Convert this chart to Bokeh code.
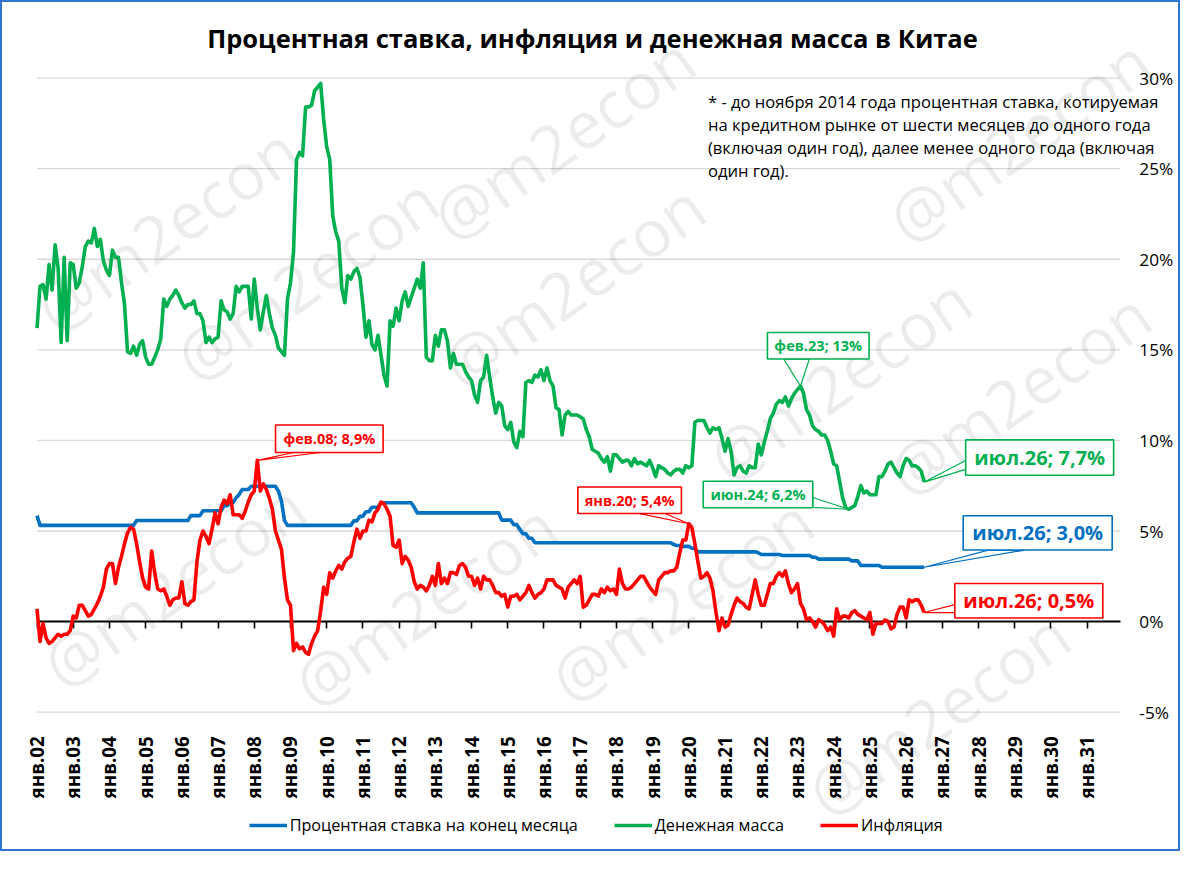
import math
from bokeh.plotting import figure
from bokeh.models import Range1d, FixedTicker, Label, Legend, LegendItem, LinearAxis
from bokeh.embed import file_html
from bokeh.resources import INLINE

FONT = "Open Sans"

# ------------------------------------------------------------------ data
MONTH_ABBR = ["янв", "фев", "мар", "апр", "май", "июн",
              "июл", "авг", "сен", "окт", "ноя", "дек"]
FIRST_YEAR, LAST_YEAR = 2002, 2031
CATEGORIES = [f"{m}.{y % 100:02d}" for y in range(FIRST_YEAR, LAST_YEAR + 1) for m in MONTH_ABBR]

TICK_LABELS = ["янв.02", "янв.03", "янв.04", "янв.05", "янв.06", "янв.07", "янв.08",
               "янв.09", "янв.10", "янв.11", "янв.12", "янв.13", "янв.14", "янв.15",
               "янв.16", "янв.17", "янв.18", "янв.19", "янв.20", "янв.21", "янв.22",
               "янв.23", "янв.24", "янв.25", "янв.26", "янв.27", "янв.28", "янв.29",
               "янв.30", "янв.31"]
Y_TICKS = [-5, 0, 5, 10, 15, 20, 25, 30]
Y_TICK_LABELS = ["-5%", "0%", "5%", "10%", "15%", "20%", "25%", "30%"]

TITLE = "Процентная ставка, инфляция и денежная масса в Китае"
NOTE = ("* - до ноября 2014 года процентная ставка, котируемая\n"
        "на кредитном рынке от шести месяцев до одного года\n"
        "(включая один год), далее менее одного года (включая\n"
        "один год).")
WATERMARK = "@m2econ"

SERIES_NAMES = ["Процентная ставка на конец месяца", "Денежная масса", "Инфляция"]

# interest rate at month end, %  (янв.02 ... июл.26)
RATE = [
    5.85, 5.31, 5.31, 5.31, 5.31, 5.31, 5.31, 5.31, 5.31, 5.31, 5.31, 5.31,  # 2002
    5.31, 5.31, 5.31, 5.31, 5.31, 5.31, 5.31, 5.31, 5.31, 5.31, 5.31, 5.31,  # 2003
    5.31, 5.31, 5.31, 5.31, 5.31, 5.31, 5.31, 5.31, 5.31, 5.58, 5.58, 5.58,  # 2004
    5.58, 5.58, 5.58, 5.58, 5.58, 5.58, 5.58, 5.58, 5.58, 5.58, 5.58, 5.58,  # 2005
    5.58, 5.58, 5.58, 5.85, 5.85, 5.85, 5.85, 6.12, 6.12, 6.12, 6.12, 6.12,  # 2006
    6.12, 6.12, 6.39, 6.39, 6.57, 6.57, 6.84, 7.02, 7.29, 7.29, 7.29, 7.47,  # 2007
    7.47, 7.47, 7.47, 7.47, 7.47, 7.47, 7.47, 7.47, 7.20, 6.66, 5.58, 5.31,  # 2008
    5.31, 5.31, 5.31, 5.31, 5.31, 5.31, 5.31, 5.31, 5.31, 5.31, 5.31, 5.31,  # 2009
    5.31, 5.31, 5.31, 5.31, 5.31, 5.31, 5.31, 5.31, 5.31, 5.56, 5.56, 5.81,  # 2010
    5.81, 6.06, 6.06, 6.31, 6.31, 6.31, 6.56, 6.56, 6.56, 6.56, 6.56, 6.56,  # 2011
    6.56, 6.56, 6.56, 6.56, 6.56, 6.31, 6.00, 6.00, 6.00, 6.00, 6.00, 6.00,  # 2012
    6.00, 6.00, 6.00, 6.00, 6.00, 6.00, 6.00, 6.00, 6.00, 6.00, 6.00, 6.00,  # 2013
    6.00, 6.00, 6.00, 6.00, 6.00, 6.00, 6.00, 6.00, 6.00, 6.00, 5.60, 5.60,  # 2014
    5.60, 5.60, 5.35, 5.35, 5.10, 4.85, 4.85, 4.60, 4.60, 4.35, 4.35, 4.35,  # 2015
    4.35, 4.35, 4.35, 4.35, 4.35, 4.35, 4.35, 4.35, 4.35, 4.35, 4.35, 4.35,  # 2016
    4.35, 4.35, 4.35, 4.35, 4.35, 4.35, 4.35, 4.35, 4.35, 4.35, 4.35, 4.35,  # 2017
    4.35, 4.35, 4.35, 4.35, 4.35, 4.35, 4.35, 4.35, 4.35, 4.35, 4.35, 4.35,  # 2018
    4.35, 4.35, 4.35, 4.35, 4.35, 4.35, 4.35, 4.25, 4.20, 4.20, 4.15, 4.15,  # 2019
    4.15, 4.05, 4.05, 3.85, 3.85, 3.85, 3.85, 3.85, 3.85, 3.85, 3.85, 3.85,  # 2020
    3.85, 3.85, 3.85, 3.85, 3.85, 3.85, 3.85, 3.85, 3.85, 3.85, 3.85, 3.80,  # 2021
    3.70, 3.70, 3.70, 3.70, 3.70, 3.70, 3.70, 3.65, 3.65, 3.65, 3.65, 3.65,  # 2022
    3.65, 3.65, 3.65, 3.65, 3.65, 3.55, 3.55, 3.45, 3.45, 3.45, 3.45, 3.45,  # 2023
    3.45, 3.45, 3.45, 3.45, 3.45, 3.45, 3.35, 3.35, 3.35, 3.10, 3.10, 3.10,  # 2024
    3.10, 3.10, 3.10, 3.10, 3.00, 3.00, 3.00, 3.00, 3.00, 3.00, 3.00, 3.00,  # 2025
    3.00, 3.00, 3.00, 3.00, 3.00, 3.00, 3.00,                                # 2026
]

# money supply growth, % y/y
MONEY = [
    16.2, 18.5, 18.6, 17.8, 19.7, 18.3, 20.8, 19.5, 15.4, 20.1, 15.5, 19.8,  # 2002
    19.7, 18.4, 18.7, 19.6, 20.7, 21.0, 20.9, 21.7, 20.7, 21.1, 19.9, 19.4,  # 2003
    19.1, 20.5, 20.1, 20.1, 18.7, 17.5, 14.9, 14.8, 15.2, 14.7, 15.3, 15.5,  # 2004
    14.6, 14.2, 14.2, 14.6, 15.0, 15.6, 17.8, 17.4, 17.8, 18.0, 18.3, 18.0,  # 2005
    17.6, 17.3, 17.5, 17.5, 17.7, 17.0, 17.0, 16.6, 15.4, 15.7, 15.4, 15.6,  # 2006
    15.7, 17.7, 17.2, 17.1, 16.7, 17.0, 18.5, 18.2, 18.5, 18.5, 18.5, 16.7,  # 2007
    18.9, 17.3, 16.1, 17.1, 18.0, 17.0, 16.2, 15.8, 15.1, 14.9, 14.7, 17.8,  # 2008
    18.7, 20.4, 25.5, 25.9, 25.7, 28.4, 28.4, 28.5, 29.3, 29.5, 29.7, 27.7,  # 2009
    26.2, 25.5, 22.4, 21.5, 21.0, 18.4, 17.6, 19.1, 18.9, 19.3, 19.5, 19.0,  # 2010
    17.5, 15.7, 16.6, 15.3, 15.0, 15.8, 14.7, 13.6, 13.0, 16.6, 16.3, 17.3,  # 2011
    16.6, 17.7, 18.2, 17.4, 17.9, 18.4, 18.9, 18.4, 19.8, 14.6, 14.4, 14.4,  # 2012
    15.8, 15.2, 16.1, 16.1, 15.5, 14.0, 14.8, 14.2, 14.2, 14.2, 13.8, 13.5,  # 2013
    13.3, 12.5, 12.1, 13.3, 13.5, 14.7, 13.5, 12.4, 11.5, 12.1, 11.9, 10.8,  # 2014
    10.6, 11.0, 9.9, 9.6, 10.5, 10.2, 13.2, 13.3, 13.2, 13.6, 13.5, 13.9,    # 2015
    13.3, 14.0, 13.3, 13.0, 11.8, 11.7, 10.3, 11.4, 11.6, 11.4, 11.4, 11.4,  # 2016
    11.3, 11.2, 10.6, 10.2, 9.5, 9.4, 9.3, 9.0, 8.8, 9.1, 8.3, 9.2,          # 2017
    9.2, 9.0, 8.8, 8.9, 8.9, 8.6, 9.0, 8.7, 8.8, 8.7, 8.6, 8.9,              # 2018
    8.5, 8.0, 8.6, 8.5, 8.4, 8.2, 8.1, 8.3, 8.4, 8.4, 8.2, 8.6,              # 2019
    8.5, 8.6, 11.0, 11.1, 11.1, 11.1, 10.7, 10.4, 10.7, 10.6, 10.7, 10.1,    # 2020
    9.4, 10.1, 9.4, 8.1, 8.5, 8.6, 8.3, 8.2, 8.6, 8.5, 8.5, 9.8,             # 2021
    9.2, 9.9, 10.5, 11.2, 11.5, 12.0, 12.2, 12.1, 12.4, 11.9, 12.3, 12.6,    # 2022
    12.8, 13.0, 12.6, 11.7, 11.4, 10.8, 10.6, 10.5, 10.3, 10.3, 10.0, 9.4,   # 2023
    8.7, 8.6, 7.7, 6.8, 6.3, 6.2, 6.3, 6.4, 6.9, 7.5, 7.1, 7.2,              # 2024
    7.0, 7.0, 7.0, 8.0, 8.0, 8.3, 8.7, 8.8, 8.5, 8.2, 8.0, 8.6,              # 2025
    9.0, 8.9, 8.6, 8.6, 8.5, 8.3, 7.7,                                       # 2026
]

# inflation, % y/y
INFL = [
    0.7, -1.1, -0.1, -0.9, -1.2, -1.1, -0.9, -0.7, -0.8, -0.7, -0.7, -0.5,   # 2002
    0.3, 0.2, 0.9, 0.9, 0.6, 0.3, 0.4, 0.7, 1.0, 1.4, 1.9, 2.9,              # 2003
    3.2, 3.2, 2.1, 3.0, 3.6, 4.3, 4.9, 5.2, 5.1, 4.3, 3.3, 2.4,              # 2004
    1.9, 1.8, 3.9, 2.7, 1.8, 1.7, 1.8, 1.4, 0.9, 1.2, 1.3, 1.3,              # 2005
    2.2, 1.0, 0.9, 1.1, 1.2, 3.3, 4.5, 5.0, 4.7, 4.3, 5.1, 6.0,              # 2006
    5.4, 6.3, 6.7, 6.5, 7.0, 5.9, 5.9, 5.9, 5.7, 6.1, 6.6, 7.0,              # 2007
    7.2, 8.9, 7.2, 7.6, 7.3, 6.8, 6.2, 5.0, 4.5, 4.0, 2.4, 1.2,              # 2008
    0.9, -1.6, -1.2, -1.5, -1.4, -1.7, -1.8, -1.2, -0.8, -0.5, 0.6, 1.9,     # 2009
    1.5, 2.7, 2.4, 2.8, 3.1, 2.9, 3.3, 3.5, 3.6, 4.4, 5.1, 4.6,              # 2010
    5.0, 5.0, 5.6, 5.5, 6.0, 6.2, 6.6, 6.5, 6.2, 5.8, 4.2, 4.1,              # 2011
    4.5, 3.2, 3.6, 3.4, 3.0, 2.2, 1.8, 2.0, 1.9, 1.7, 2.0, 2.5,              # 2012
    2.0, 3.2, 2.1, 2.4, 2.1, 2.7, 2.7, 2.6, 3.1, 3.2, 3.0, 2.5,              # 2013
    2.5, 2.0, 2.4, 1.8, 2.5, 2.3, 2.3, 2.0, 1.6, 1.6, 1.4, 1.5,              # 2014
    0.8, 1.4, 1.4, 1.5, 1.2, 1.4, 1.6, 2.0, 1.6, 1.3, 1.5, 1.6,              # 2015
    1.8, 2.3, 2.3, 2.3, 2.0, 1.9, 1.8, 1.3, 1.9, 2.1, 2.3, 2.1,              # 2016
    2.5, 0.8, 0.9, 1.2, 1.5, 1.5, 1.4, 1.8, 1.6, 1.9, 1.7, 1.8,              # 2017
    1.5, 2.9, 2.1, 1.8, 1.8, 1.9, 2.1, 2.3, 2.5, 2.5, 2.2, 1.9,              # 2018
    1.7, 1.5, 2.3, 2.5, 2.7, 2.7, 2.8, 2.8, 3.0, 3.8, 4.5, 4.5,              # 2019
    5.4, 5.2, 4.3, 3.3, 2.4, 2.5, 2.7, 2.4, 1.7, 0.5, -0.5, 0.2,             # 2020
    -0.3, -0.2, 0.4, 0.9, 1.3, 1.1, 1.0, 0.8, 0.7, 1.5, 2.3, 1.5,            # 2021
    0.9, 0.9, 1.5, 2.1, 2.1, 2.5, 2.7, 2.5, 2.8, 2.1, 1.6, 1.8,              # 2022
    2.1, 1.0, 0.7, 0.1, 0.2, 0.0, -0.3, 0.1, 0.0, -0.2, -0.5, -0.3,          # 2023
    -0.8, 0.7, 0.1, 0.3, 0.3, 0.2, 0.5, 0.6, 0.4, 0.3, 0.2, 0.1,             # 2024
    0.5, -0.7, -0.1, -0.1, -0.1, 0.1, 0.0, -0.4, -0.3, 0.4, 0.8, 0.8,        # 2025
    0.2, 1.2, 1.1, 1.2, 1.2, 0.9, 0.5,                                       # 2026
]

# callouts: (series, category, text)
CALLOUTS = [
    ("INFL", "фев.08", "фев.08; 8,9%"),
    ("INFL", "янв.20", "янв.20; 5,4%"),
    ("MONEY", "фев.23", "фев.23; 13%"),
    ("MONEY", "июн.24", "июн.24; 6,2%"),
    ("MONEY", "июл.26", "июл.26; 7,7%"),
    ("RATE", "июл.26", "июл.26; 3,0%"),
    ("INFL", "июл.26", "июл.26; 0,5%"),
]

# ------------------------------------------------------------------ style / layout
COLORS = {"RATE": "#0070C0", "MONEY": "#00B050", "INFL": "#FF0000"}
SERIES = {"RATE": RATE, "MONEY": MONEY, "INFL": INFL}
GRID_COLOR = "#D9D9D9"
PAGE_BORDER = "#2F75D2"
BORDER_PX = 2

FIG_W, FIG_H = 1180, 851
# layout is designed on a 1200 x 871 sheet and scaled onto the canvas
SX = (FIG_W + 2 * BORDER_PX) / 1200
SY = (FIG_H + 2 * BORDER_PX) / 871


def fx(x):
    return x * SX - BORDER_PX


def fy(y):
    return y * SY - BORDER_PX


# plot area on the design sheet
AREA_L, AREA_R, AREA_T, AREA_B = 37, 1135, 79, 725
A_LEFT, A_RIGHT = fx(AREA_L), FIG_W - fx(AREA_R)
A_TOP, A_BOTTOM = fy(AREA_T), FIG_H - fy(AREA_B)
AREA_W = FIG_W - A_LEFT - A_RIGHT
AREA_H = FIG_H - A_TOP - A_BOTTOM
X_START, X_END = 0, len(CATEGORIES) - 1
PPX = AREA_W / (X_END - X_START)
PPY = AREA_H / (Y_TICKS[-1] - Y_TICKS[0])
TICK_PX = 7

# callout geometry (design px): box centre offset from the point (dx right, dy up),
# box size, side the pointer leaves from, pointer base offsets along that side, font
CALLOUT_LAYOUT = [
    dict(dx=73, dy=22, w=109, h=28, side="bottom", base=(-36, -9), size="14.5px"),
    dict(dx=-60, dy=24, w=105, h=27, side="bottom", base=(9, 36), size="14.5px"),
    dict(dx=18, dy=41, w=103, h=27, side="bottom", base=(-35, -9), size="14.5px"),
    dict(dx=-92, dy=15, w=111, h=27, side="right", base=(-3, -13), size="14.5px"),
    dict(dx=117, dy=25, w=150, h=36, side="left", base=(-3, -12), size="20px"),
    dict(dx=115, dy=35, w=151, h=35, side="bottom", base=(-50, -13), size="20px"),
    dict(dx=106, dy=12, w=150, h=35, side="left", base=(-4, -12), size="20px"),
]

# watermark centres on the design sheet (kept fully inside the sheet)
WATERMARK_POS = [(168, 232), (310, 283), (580, 290), (570, 140), (850, 385), (1032, 400),
                 (1032, 142), (175, 595), (430, 615), (690, 610), (950, 726)]
TITLE_POS = (600, 38)      # centre
NOTE_POS = (717, 91)       # top-left of the note
LEGEND_POS = (252, 852)    # left / bottom edge of the legend
Y_LABEL_STANDOFF = 13

# ------------------------------------------------------------------ figure
p = figure(width=FIG_W, height=FIG_H,
           x_range=Range1d(X_START - A_LEFT / PPX, X_END + A_RIGHT / PPX),
           y_range=Range1d(Y_TICKS[0] - A_BOTTOM / PPY, Y_TICKS[-1] + A_TOP / PPY),
           x_axis_location=None, y_axis_location=None,
           toolbar_location=None, output_backend="svg",
           min_border=0, min_border_left=0, min_border_right=0,
           min_border_top=0, min_border_bottom=0,
           background_fill_color="white", border_fill_color="white",
           outline_line_color=None)
p.styles = {"border": f"{BORDER_PX}px solid {PAGE_BORDER}"}
p.grid.visible = False

# horizontal grid lines across the plot area
grid_y = [t for t in Y_TICKS if t != 0]
p.segment(x0=[X_START] * len(grid_y), y0=grid_y, x1=[X_END] * len(grid_y), y1=grid_y,
          line_color=GRID_COLOR, line_width=1.3, level="underlay")

x_tick_pos = [CATEGORIES.index(lbl) for lbl in TICK_LABELS]

# category axis crossing at 0% (line and tick marks)
zero_axis = LinearAxis(fixed_location=0, bounds=(X_START, X_END),
                       ticker=FixedTicker(ticks=x_tick_pos),
                       major_label_overrides={t: "" for t in x_tick_pos},
                       axis_line_color="black", axis_line_width=2.2,
                       major_tick_line_color="black", major_tick_line_width=1.6,
                       major_tick_in=0, major_tick_out=TICK_PX,
                       minor_tick_line_color=None, level="underlay")
p.add_layout(zero_axis, "below")

# category labels at the bottom of the plot area
label_axis = LinearAxis(fixed_location=Y_TICKS[0], ticker=FixedTicker(ticks=x_tick_pos),
                        major_label_overrides=dict(zip(x_tick_pos, TICK_LABELS)),
                        major_label_orientation=math.pi / 2, major_label_standoff=18,
                        major_label_text_font=FONT, major_label_text_font_style="bold",
                        major_label_text_font_size="18.8px", major_label_text_color="black",
                        axis_line_color=None, major_tick_line_color=None,
                        minor_tick_line_color=None)
p.add_layout(label_axis, "below")

# value axis on the right
y_axis = LinearAxis(fixed_location=X_END, ticker=FixedTicker(ticks=Y_TICKS),
                    major_label_overrides=dict(zip(Y_TICKS, Y_TICK_LABELS)),
                    major_label_standoff=Y_LABEL_STANDOFF,
                    major_label_text_font=FONT,
                    major_label_text_font_size="17.2px", major_label_text_color="black",
                    axis_line_color=None, major_tick_line_color=None,
                    minor_tick_line_color=None)
p.add_layout(y_axis, "right")

# watermarks
for wx, wy in WATERMARK_POS:
    p.add_layout(Label(x=fx(wx), y=FIG_H - fy(wy), x_units="screen", y_units="screen",
                       text=WATERMARK, angle=35, angle_units="deg", text_align="center",
                       text_baseline="middle", text_font=FONT, text_font_size="65px",
                       text_color="black", text_alpha=0.075, level="underlay"))

# series
renderers = {}
for key in ["RATE", "MONEY", "INFL"]:
    ys = SERIES[key]
    renderers[key] = p.line(list(range(len(ys))), ys, line_color=COLORS[key],
                            line_width=3.6, line_join="round")

# callouts
for (key, cat, text), lay in zip(CALLOUTS, CALLOUT_LAYOUT):
    ys = SERIES[key]
    col = COLORS[key]
    i = CATEGORIES.index(cat)
    v = ys[i]
    w, h = lay["w"] * SX, lay["h"] * SY
    cx = i + lay["dx"] * SX / PPX
    cy = v + lay["dy"] * SY / PPY
    hw = w / 2 / PPX
    hh = h / 2 / PPY
    b1, b2 = lay["base"]
    if lay["side"] == "bottom":
        bx = [cx + b1 * SX / PPX, cx + b2 * SX / PPX]
        by = [cy - hh, cy - hh]
    elif lay["side"] == "left":
        bx = [cx - hw, cx - hw]
        by = [cy + b1 * SY / PPY, cy + b2 * SY / PPY]
    else:
        bx = [cx + hw, cx + hw]
        by = [cy + b1 * SY / PPY, cy + b2 * SY / PPY]
    p.patch([bx[0], i, bx[1]], [by[0], v, by[1]], fill_color="white",
            line_color=col, line_width=1.2)
    p.rect(x=[cx], y=[cy], width=w, height=h, width_units="screen",
           height_units="screen", fill_color="white", line_color=col, line_width=1.6)
    p.add_layout(Label(x=cx, y=cy, text=text, text_align="center", text_baseline="middle",
                       text_font=FONT, text_font_style="bold", text_font_size=lay["size"],
                       text_color=col))

# title and note
p.add_layout(Label(x=fx(TITLE_POS[0]), y=FIG_H - fy(TITLE_POS[1]), x_units="screen",
                   y_units="screen", text=TITLE, text_align="center", text_baseline="middle",
                   text_font=FONT, text_font_style="bold", text_font_size="25.5px",
                   text_color="black"))
p.add_layout(Label(x=fx(NOTE_POS[0]), y=FIG_H - fy(NOTE_POS[1]), x_units="screen",
                   y_units="screen", text=NOTE, text_align="left", text_baseline="top",
                   text_font=FONT, text_font_size="16.6px", text_line_height=1.0,
                   text_color="black"))

# legend below the category labels
legend = Legend(items=[LegendItem(label=name, renderers=[renderers[k]])
                       for name, k in zip(SERIES_NAMES, ["RATE", "MONEY", "INFL"])],
                location=(fx(LEGEND_POS[0]), FIG_H - fy(LEGEND_POS[1])),
                orientation="horizontal", spacing=36, glyph_width=38, glyph_height=18,
                label_standoff=3, padding=0, margin=0, border_line_color=None,
                background_fill_alpha=0, label_text_font=FONT,
                label_text_font_size="16.2px", label_text_color="black")
p.add_layout(legend)

open("out.html", "w").write(file_html(p, INLINE))
